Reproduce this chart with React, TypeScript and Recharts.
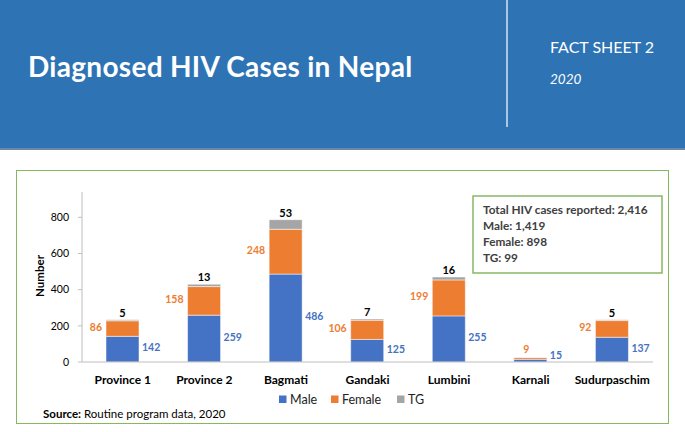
import React from 'react'
import { BarChart, Bar, XAxis, YAxis, LabelList } from 'recharts'

// ── datos (Fact sheet 2, 2020) ──────────────────────────────
const categories = ['Province 1', 'Province 2', 'Bagmati', 'Gandaki', 'Lumbini', 'Karnali', 'Sudurpaschim']
const male = [142, 259, 486, 125, 255, 15, 137]
const female = [86, 158, 248, 106, 199, 9, 92]
const tg = [5, 13, 53, 7, 16, 0, 5]
const yTicks = [0, 200, 400, 600, 800]

const series = [
  { key: 'male', name: 'Male', color: '#4472C4' },
  { key: 'female', name: 'Female', color: '#ED7D31' },
  { key: 'tg', name: 'TG', color: '#A5A5A5' },
]

const data = categories.map((c, i) => ({ name: c, male: male[i], female: female[i], tg: tg[i] }))

const sum = (a: number[]) => a.reduce((s, v) => s + v, 0)
const fmt = (v: number) => v.toLocaleString('en-US')
const summaryLines = [
  `Total HIV cases reported: ${fmt(sum(male) + sum(female) + sum(tg))}`,
  `Male: ${fmt(sum(male))}`,
  `Female: ${fmt(sum(female))}`,
  `TG: ${fmt(sum(tg))}`,
]

const FONT = 'Lato, "Open Sans", sans-serif'
const AXIS_Y = 361.7
const GREEN = '#86B862'

// etiquetas: hombres a la derecha, mujeres a la izquierda, TG arriba
const maleLabel = (p: any) => {
  const { x, y, width, height, value } = p
  const cy = Math.min(y + height / 2 - 2, AXIS_Y - 7)
  return (
    <text x={x + width + 3} y={cy} textAnchor="start" dominantBaseline="central"
      fontFamily={FONT} fontWeight={700} fontSize={10.5} fill="#4472C4">{value}</text>
  )
}

const femaleLabel = (p: any) => {
  const { x, y, width, height, value } = p
  if (height < 6) {
    return (
      <text x={x + width / 2 - 4} y={y - 9} textAnchor="middle" dominantBaseline="central"
        fontFamily={FONT} fontWeight={700} fontSize={10.5} fill="#ED7D31">{value}</text>
    )
  }
  return (
    <text x={x - 4} y={y + height / 2 - 2} textAnchor="end" dominantBaseline="central"
      fontFamily={FONT} fontWeight={700} fontSize={10.5} fill="#ED7D31">{value}</text>
  )
}

const tgLabel = (p: any) => {
  const { x, y, width, value } = p
  if (!value) return null
  return (
    <text x={x + width / 2} y={y - 3} textAnchor="middle"
      fontFamily={FONT} fontWeight={700} fontSize={11} fill="#000">{value}</text>
  )
}

const CategoryTick = (p: any) => (
  <text x={p.x} y={p.y + 17} textAnchor="middle" dominantBaseline="central"
    fontFamily={FONT} fontWeight={700} fontSize={12} fill="#000">{p.payload.value}</text>
)

export default function App() {
  return (
    <div style={{ position: 'absolute', left: 0, top: 0, width: 685, height: 432, background: '#fff', overflow: 'hidden', fontFamily: FONT }}>
      {/* cabecera */}
      <div style={{ position: 'absolute', left: 0, top: 0, width: 685, height: 148, background: '#2E74B5', borderBottom: '2px solid #6A86AA' }} />
      <div style={{ position: 'absolute', left: 0, top: 170, width: 651, height: 252, marginLeft: 16, border: `1.5px solid ${GREEN}` }} />

      <BarChart width={685} height={432} data={data} margin={{ top: 192, right: 32, bottom: 40, left: 22 }}
        style={{ position: 'absolute', left: 0, top: 0 }}>
        <XAxis dataKey="name" height={30} tickLine={false} tickSize={0} tickMargin={0}
          stroke="#BFBFBF" tick={<CategoryTick />} interval={0} />
        <YAxis width={60} domain={[0, 940]} ticks={yTicks} tickSize={4} tickMargin={9}
          stroke="#BFBFBF" allowDataOverflow
          tick={{ fill: '#000', fontSize: 10.5, fontFamily: FONT }} />
        {series.map((s) => (
          <Bar key={s.key} dataKey={s.key} name={s.name} stackId="a" fill={s.color} barSize={33}
            stroke="#ffffff" strokeWidth={0.5} isAnimationActive={false}>
            <LabelList dataKey={s.key}
              content={s.key === 'male' ? maleLabel : s.key === 'female' ? femaleLabel : tgLabel} />
          </Bar>
        ))}
      </BarChart>

      <svg width={685} height={432} style={{ position: 'absolute', left: 0, top: 0, pointerEvents: 'none' }}>
        <line x1={507} y1={0} x2={507} y2={127} stroke="#ffffff" strokeOpacity={0.8} strokeWidth={1.5} />
        <text x={28} y={77} fontFamily={FONT} fontWeight={700} fontSize={28} letterSpacing={0.3} fill="#fff">Diagnosed HIV Cases in Nepal</text>
        <text x={550} y={53} fontFamily={FONT} fontSize={16} fill="#fff">FACT SHEET 2</text>
        <text x={550} y={84} fontFamily={FONT} fontStyle="italic" fontSize={13.5} fill="#fff">2020</text>

        <text x={0} y={0} transform="translate(44 276) rotate(-90)" textAnchor="middle"
          fontFamily={FONT} fontWeight={700} fontSize={11.5} fill="#000">Number</text>

        <rect x={473} y={196} width={189} height={77} fill="#fff" stroke={GREEN} strokeWidth={1.5} />
        {summaryLines.map((t, i) => (
          <text key={t} x={483} y={214 + i * 16} fontFamily={FONT} fontWeight={700} fontSize={11.8} fill="#404040">{t}</text>
        ))}

        {series.map((s, i) => {
          const xs = [279, 331, 397]
          return (
            <g key={s.key}>
              <rect x={xs[i]} y={395.5} width={7.5} height={7.5} fill={s.color} />
              <text x={xs[i] + 11} y={399.5} dominantBaseline="central" fontFamily={FONT} fontSize={12.5} fill="#222">{s.name}</text>
            </g>
          )
        })}

        <text x={43} y={418} fontFamily={FONT} fontSize={11.5} fill="#000">
          <tspan fontWeight={700}>Source:</tspan> Routine program data, 2020
        </text>
      </svg>
    </div>
  )
}
